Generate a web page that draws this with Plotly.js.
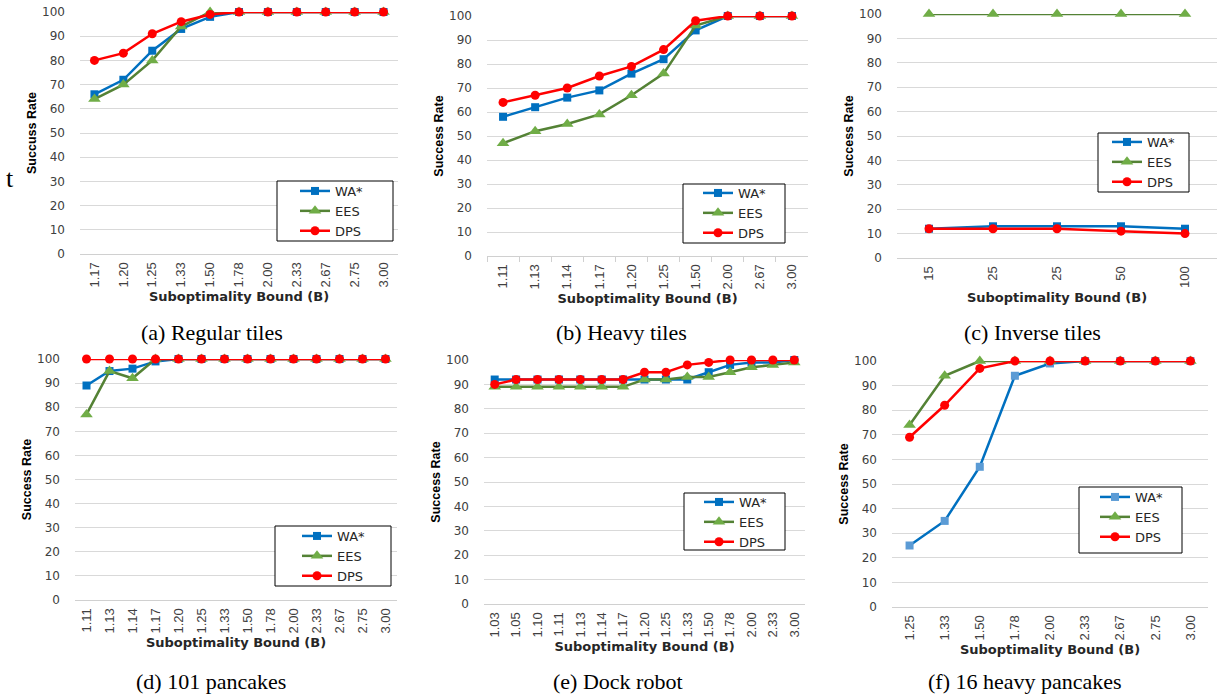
<!DOCTYPE html>
<html>
<head>
<meta charset="utf-8">
<script src="https://cdn.plot.ly/plotly-3.0.1.min.js"></script>
<style>
  html, body { margin: 0; padding: 0; background: #fff; }
  #chart { width: 1218px; height: 696px; }
</style>
</head>
<body>
<div id="chart"></div>
<script>
// ---------- DATA ----------
const seriesNames = ["WA*", "EES", "DPS"];

const catsA = ["1.17","1.20","1.25","1.33","1.50","1.78","2.00","2.33","2.67","2.75","3.00"];
const waA   = [66, 72, 84, 93, 98, 100, 100, 100, 100, 100, 100];
const eesA  = [64, 70, 80, 94, 100, 100, 100, 100, 100, 100, 100];
const dpsA  = [80, 83, 91, 96, 99, 100, 100, 100, 100, 100, 100];

const catsB = ["1.11","1.13","1.14","1.17","1.20","1.25","1.50","2.00","2.67","3.00"];
const waB   = [58, 62, 66, 69, 76, 82, 94, 100, 100, 100];
const eesB  = [47, 52, 55, 59, 67, 76, 96, 100, 100, 100];
const dpsB  = [64, 67, 70, 75, 79, 86, 98, 100, 100, 100];

const catsC = ["15","25","25","50","100"];
const waC   = [12, 13, 13, 13, 12];
const eesC  = [100, 100, 100, 100, 100];
const dpsC  = [12, 12, 12, 11, 10];

const catsD = ["1.11","1.13","1.14","1.17","1.20","1.25","1.33","1.50","1.78","2.00","2.33","2.67","2.75","3.00"];
const waD   = [89, 95, 96, 99, 100, 100, 100, 100, 100, 100, 100, 100, 100, 100];
const eesD  = [77, 95, 92, 100, 100, 100, 100, 100, 100, 100, 100, 100, 100, 100];
const dpsD  = [100, 100, 100, 100, 100, 100, 100, 100, 100, 100, 100, 100, 100, 100];

const catsE = ["1.03","1.05","1.10","1.11","1.13","1.14","1.17","1.20","1.25","1.33","1.50","1.78","2.00","2.33","3.00"];
const waE   = [92, 92, 92, 92, 92, 92, 92, 92, 92, 92, 95, 98, 99, 99, 100];
const eesE  = [89, 89, 89, 89, 89, 89, 89, 92, 92, 93, 93, 95, 97, 98, 99];
const dpsE  = [90, 92, 92, 92, 92, 92, 92, 95, 95, 98, 99, 100, 100, 100, 100];

const catsF = ["1.25","1.33","1.50","1.78","2.00","2.33","2.67","2.75","3.00"];
const waF   = [25, 35, 57, 94, 99, 100, 100, 100, 100];
const eesF  = [74, 94, 100, 100, 100, 100, 100, 100, 100];
const dpsF  = [69, 82, 97, 100, 100, 100, 100, 100, 100];

const yTitles  = ["Succuss Rate", "Success Rate", "Success Rate", "Success Rate", "Success Rate", "Success Rate"];
const xTitle   = "Suboptimality Bound (B)";
const captions = ["(a) Regular tiles", "(b) Heavy tiles", "(c) Inverse tiles", "(d) 101 pancakes", "(e) Dock robot", "(f) 16 heavy pancakes"];

// ---------- LAYOUT / STYLE ----------
const W = 1218, H = 696;
// box: plot area [left, top, right, bottom]; leg: legend items origin [x, y]; frame: legend frame [l, t, r, b]
const panels = [
  {cats: catsA, vals: [waA, eesA, dpsA], box: [80, 12, 398, 254],  leg: [295, 176], frame: [277, 181, 393, 241], cap: [212, 332]},
  {cats: catsB, vals: [waB, eesB, dpsB], box: [487, 16, 808, 256], leg: [698, 178], frame: [683, 184, 785, 243], cap: [621, 332], ticks: true},
  {cats: catsC, vals: [waC, eesC, dpsC], box: [897, 14, 1217, 258], leg: [1107, 127], frame: [1098, 133, 1189, 192], cap: [1032, 332], dup: true},
  {cats: catsD, vals: [waD, eesD, dpsD], box: [75, 359, 397, 600], leg: [297, 521], frame: [275, 526, 391, 586], cap: [211, 681]},
  {cats: catsE, vals: [waE, eesE, dpsE], box: [484, 360, 805, 604], leg: [699, 487], frame: [684, 493, 785, 550], cap: [618, 681]},
  {cats: catsF, vals: [waF, eesF, dpsF], box: [892, 361, 1208, 607], leg: [1095, 482], frame: [1079, 487, 1182, 553], cap: [1025, 681], light: true}
];

const styles = [
  {line: "#0070C0", marker: "#0070C0", symbol: "square", size: 8},
  {line: "#548235", marker: "#70AD47", symbol: "triangle-up", size: 11},
  {line: "#FF0000", marker: "#FF0000", symbol: "circle", size: 9}
];

const sansFont = '"DejaVu Sans", Verdana, sans-serif';
const narrowFont = '"Liberation Sans Narrow", "Arial Narrow", "Liberation Sans", sans-serif';
const serifFont = '"Liberation Serif", "Times New Roman", serif';

const traces = [];
const layout = {
  width: W, height: H,
  margin: {l: 0, r: 0, t: 0, b: 0},
  paper_bgcolor: "#fff", plot_bgcolor: "#fff",
  showlegend: true,
  annotations: [],
  shapes: [],
  font: {family: sansFont, color: "#404040"}
};

panels.forEach((p, k) => {
  const n = k + 1;
  const xa = "xaxis" + (n === 1 ? "" : n);
  const ya = "yaxis" + (n === 1 ? "" : n);
  const xr = "x" + (n === 1 ? "" : n);
  const yr = "y" + (n === 1 ? "" : n);
  const lg = "legend" + (n === 1 ? "" : n);
  const xs = p.dup ? p.cats.map((c, i) => i) : p.cats;

  p.vals.forEach((v, s) => {
    const st = styles[s];
    let mcolor = st.marker;
    if (p.light && s === 0) mcolor = "#5B9BD5";
    traces.push({
      type: "scatter", mode: "lines+markers",
      x: xs, y: v, name: seriesNames[s],
      xaxis: xr, yaxis: yr, legend: lg,
      cliponaxis: false,
      line: {color: st.line, width: 2.5},
      marker: {color: mcolor, symbol: st.symbol, size: st.size, line: {width: 0}}
    });
  });

  const [x0, y0, x1, y1] = p.box;
  const xaxis = {
    domain: [x0 / W, x1 / W],
    anchor: yr,
    range: [-0.5, p.cats.length - 0.5],
    showgrid: false, zeroline: false,
    showline: true, linecolor: "#d0d0d0", linewidth: 1,
    tickangle: -90,
    tickfont: {family: narrowFont, size: 13, color: "#404040"},
    ticklabelstandoff: 2,
    fixedrange: true,
    title: {text: xTitle, font: {family: sansFont, size: 13, color: "#262626", weight: "bold"}, standoff: 5}
  };
  if (p.dup) {
    xaxis.type = "linear";
    xaxis.tickvals = xs;
    xaxis.ticktext = p.cats;
  } else {
    xaxis.type = "category";
  }
  if (p.ticks) {
    xaxis.ticks = "outside";
    xaxis.tickson = "boundaries";
    xaxis.ticklen = 5;
    xaxis.tickcolor = "#d0d0d0";
  }
  layout[xa] = xaxis;

  layout[ya] = {
    domain: [1 - y1 / H, 1 - y0 / H],
    anchor: xr,
    range: [0, 100], dtick: 10,
    showgrid: true, gridcolor: "#d9d9d9", gridwidth: 1,
    zeroline: false, showline: false,
    tickfont: {family: sansFont, size: 12, color: "#404040"},
    ticklabelstandoff: 14,
    fixedrange: true,
    title: {text: yTitles[k], font: {family: narrowFont, size: 12.5, color: "#000", weight: "bold"}, standoff: 2}
  };

  // legend frame
  const [fl, ft, fr, fb] = p.frame;
  layout.shapes.push({
    type: "rect", xref: "paper", yref: "paper", layer: "above",
    x0: fl / W, x1: fr / W, y0: 1 - fb / H, y1: 1 - ft / H,
    line: {color: "#000", width: 1}, fillcolor: "#fff"
  });

  layout[lg] = {
    x: p.leg[0] / W, y: 1 - p.leg[1] / H,
    xanchor: "left", yanchor: "top",
    bgcolor: "rgba(0,0,0,0)", borderwidth: 0,
    font: {family: sansFont, size: 13, color: "#262626"},
    tracegroupgap: 0
  };

  layout.annotations.push({
    xref: "paper", yref: "paper",
    x: p.cap[0] / W, y: 1 - p.cap[1] / H,
    xanchor: "center", yanchor: "middle",
    text: captions[k], showarrow: false,
    font: {family: serifFont, size: 22, color: "#000"}
  });
});

// stray character present in the original figure
layout.annotations.push({
  xref: "paper", yref: "paper", x: 10 / W, y: 1 - 178 / H,
  xanchor: "center", yanchor: "middle", text: "t", showarrow: false,
  font: {family: serifFont, size: 26, color: "#000"}
});

Plotly.newPlot("chart", traces, layout, {displayModeBar: false, staticPlot: true});
</script>
</body>
</html>
